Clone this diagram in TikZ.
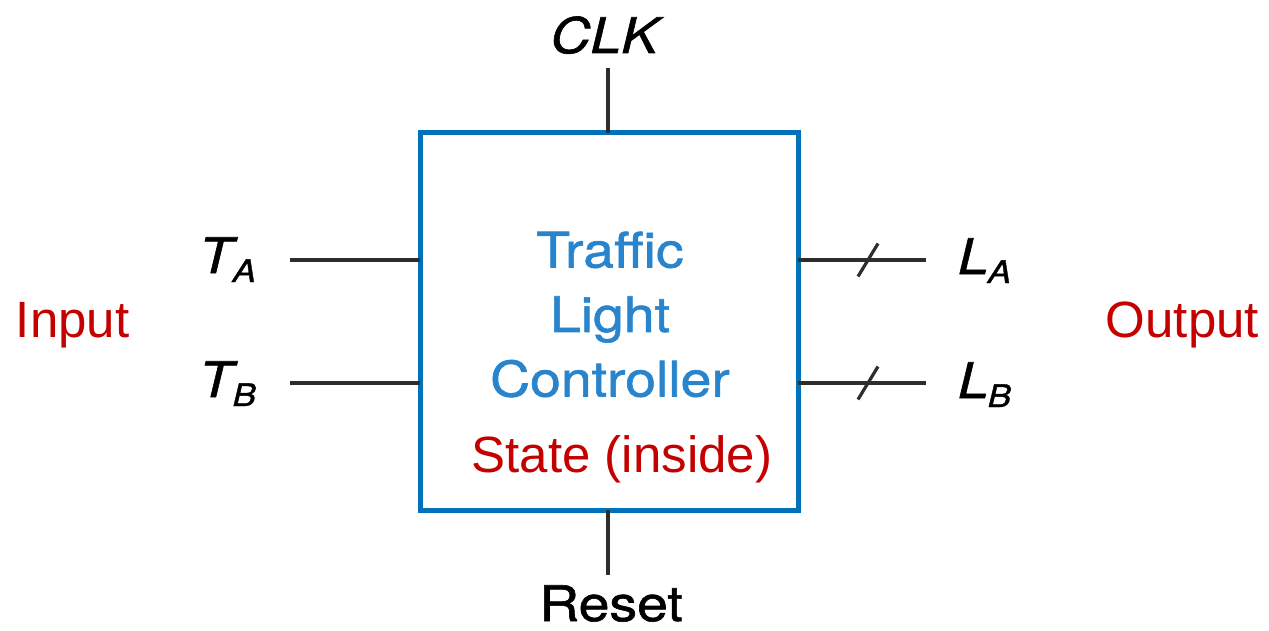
\documentclass[tikz,border=0pt]{standalone}
\usepackage{fontspec}
\setmainfont{TeX Gyre Heros}
\newfontfamily\fig[FakeStretch=1.13,FakeBold=1.2]{TeX Gyre Heros}
\newfontfamily\notefont{Liberation Sans}
\usetikzlibrary{positioning}

\definecolor{boxblue}{RGB}{0,114,186}
\definecolor{textblue}{RGB}{40,132,204}
\definecolor{notered}{RGB}{196,0,0}
\definecolor{wiregray}{RGB}{45,45,45}

% signal name with subscript
\newcommand{\signame}[3]{\textit{#1}\kern#3\raisebox{-9pt}{\fontsize{31}{31}\selectfont\textit{#2}}}

\begin{document}
\begin{tikzpicture}[x=1pt, y=-1pt,
    every node/.style={inner sep=0pt, outer sep=0pt},
    ctrl/.style={draw=boxblue, line width=5pt, minimum width=378pt, minimum height=377pt},
    wire/.style={draw=wiregray, line width=3.2pt},
    lbl/.style={font=\fig\fontsize{49}{49}\selectfont},
    note/.style={text=notered, font=\notefont\fontsize{51}{51}\selectfont}
]
\useasboundingbox (0,0) rectangle (1269,631);

\node[ctrl] (fsm) at (609,321.5) {};
\node[lbl, text=textblue, align=center, font=\fig\fontsize{49}{64.5}\selectfont] (name) at (610,314.5) {Traffic\\Light\\Controller};
\node[note, anchor=base] (state) at (622,472) {State (inside)};

% inputs
\node[lbl, anchor=base west] (ta) at (199,273) {\signame{T}{A}{-5pt}};
\node[lbl, anchor=base west] (tb) at (199,397) {\signame{T}{B}{-5pt}};
\coordinate (ta-in) at (290,260);
\coordinate (tb-in) at (290,383);
\draw[wire] (ta-in) -- (ta-in -| fsm.west);
\draw[wire] (tb-in) -- (tb-in -| fsm.west);

% outputs
\node[lbl, anchor=base west] (la) at (958,274) {\signame{L}{A}{-1pt}};
\node[lbl, anchor=base west] (lb) at (958,398) {\signame{L}{B}{-1pt}};
\coordinate (la-out) at (926,260);
\coordinate (lb-out) at (926,383);
\draw[wire] (la-out -| fsm.east) -- (la-out);
\draw[wire] (lb-out -| fsm.east) -- (lb-out);
\coordinate (la-bus) at (868,260);
\coordinate (lb-bus) at (868,383);
\draw[wire] ([shift={(-10,16.5)}]la-bus) -- ([shift={(10,-16.5)}]la-bus);
\draw[wire] ([shift={(-10,16.5)}]lb-bus) -- ([shift={(10,-16.5)}]lb-bus);

% clock and reset
\node[lbl, anchor=base] (clk) at (607,53) {\textit{CLK}};
\node[lbl, anchor=base] (rst) at (611,621) {Reset};
\draw[wire] (fsm.north) ++(-1,0) coordinate (clk-in) -- (clk-in |- 0,68);
\draw[wire] (fsm.south) ++(-1,0) coordinate (rst-in) -- (rst-in |- 0,575);

\node[note, anchor=base west] (in) at (16,337) {Input};
\node[note, anchor=base east] (out) at (1259,337) {Output};
\end{tikzpicture}
\end{document}
